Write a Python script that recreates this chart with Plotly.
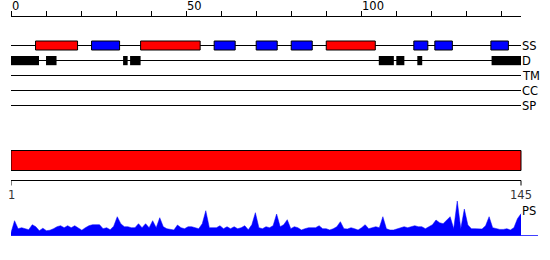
import plotly.graph_objects as go

# ---------------- data ----------------
top_ticks = [0, 50, 100]
top_minor = 10
seq_len = 145

ss_start = [7, 23, 37, 58, 70, 80, 90, 115, 121, 137]
ss_end = [19, 31, 54, 64, 76, 86, 104, 119, 126, 142]
ss_type = ["H", "E", "H", "E", "E", "E", "H", "E", "E", "E"]

d_start = [0, 10, 32, 34, 105, 110, 116, 137.2]
d_end = [8, 13, 33.3, 37, 109.3, 112.3, 117.4, 145.7]

track_names = ["SS", "D", "TM", "CC", "SP"]

domain_start = [1]
domain_end = [145]

ps_values = [3, 15, 7, 8, 7, 6, 11, 9, 5, 7.5,
             5, 5.5, 7, 9, 10, 8, 10, 8, 10, 8,
             5.5, 8, 10, 11, 11, 11, 7, 8, 6, 9.5,
             19, 12, 9, 9, 8, 8, 12, 8, 12, 8,
             15, 8, 18, 9, 7, 6, 5.7, 10.7, 8, 7,
             9, 9, 8, 7, 12, 25, 8, 8, 8, 10,
             7, 9, 7, 9, 7, 8, 10, 6, 11, 23,
             8, 7, 9, 8, 10, 21.7, 9, 11, 16, 7,
             9, 8, 5.7, 7, 8, 8, 8, 10, 7, 7,
             5.7, 7, 9, 14, 7, 6.7, 8, 7, 5.7, 8,
             11, 7, 8, 9, 8, 19, 7, 5.7, 5.7, 7,
             8, 9, 8, 9, 10, 9, 9, 7, 9, 11,
             15.7, 13, 12, 15.7, 19, 7, 34.7, 7, 26.7, 10.7,
             7, 7, 7, 6.7, 10, 19, 8, 7, 6.3, 6.3,
             7, 5.7, 8, 17, 22]
ps_positions = list(range(1, len(ps_values) + 1))

# ---------------- layout constants ----------------
W, H = 550, 260
L_PX, R_PX, R2_PX = 11, 521, 538
TOP_MAX = 145.6
PX_PER_RES = (R_PX - L_PX) / (seq_len - 1)
X2_MAX = 1 + (R2_PX - L_PX) / PX_PER_RES
row_y = {"SS": 45.5, "D": 60.5, "TM": 75.5, "CC": 90.5, "SP": 105.5}
RULER_Y = 15.5
BAR_Y0, BAR_Y1 = 150.5, 170.5
BRULER_Y = 180.5
PS_BASE = 235.7
PS_H = 36
FONT = "DejaVu Sans"
RED, BLUE = "#FF0000", "#0000FF"

fig = go.Figure()

# PS profile
fig.add_trace(go.Scatter(x=[1, X2_MAX], y=[0, 0], xaxis="x2", yaxis="y2", mode="lines",
                         line=dict(color=BLUE, width=1.5), hoverinfo="skip", showlegend=False))
fig.add_trace(go.Scatter(x=ps_positions, y=ps_values, xaxis="x2", yaxis="y2", mode="lines",
                         fill="tozeroy", fillcolor=BLUE, line=dict(color=BLUE, width=0.5),
                         hoverinfo="skip", showlegend=False))
# dummy traces to create subplots
fig.add_trace(go.Scatter(x=[0], y=[0], xaxis="x", yaxis="y", mode="markers",
                         marker=dict(opacity=0), hoverinfo="skip", showlegend=False))
fig.add_trace(go.Scatter(x=[1], y=[0], xaxis="x2", yaxis="y", mode="markers",
                         marker=dict(opacity=0), hoverinfo="skip", showlegend=False))

shapes = []
# track lines
for name in track_names:
    shapes.append(dict(type="line", xref="x domain", yref="y", x0=0, x1=1,
                       y0=row_y[name], y1=row_y[name], line=dict(color="black", width=1)))
# SS boxes
for s, e, t in zip(ss_start, ss_end, ss_type):
    shapes.append(dict(type="rect", xref="x", yref="y", x0=s, x1=e,
                       y0=row_y["SS"] - 4.5, y1=row_y["SS"] + 4.5,
                       fillcolor=RED if t == "H" else BLUE, line=dict(color="black", width=1)))
# D boxes
for s, e in zip(d_start, d_end):
    shapes.append(dict(type="rect", xref="x", yref="y", x0=s, x1=e,
                       y0=row_y["D"] - 4.5, y1=row_y["D"] + 4.7,
                       fillcolor="black", line=dict(width=0)))
# domain bar
for s, e in zip(domain_start, domain_end):
    shapes.append(dict(type="rect", xref="x2", yref="y", x0=s, x1=e, y0=BAR_Y0, y1=BAR_Y1,
                       fillcolor=RED, line=dict(color="black", width=1)))
# bottom ruler
shapes.append(dict(type="line", xref="x2", yref="y", x0=1, x1=seq_len, y0=BRULER_Y, y1=BRULER_Y,
                   line=dict(color="black", width=1)))
for v in [1, seq_len]:
    shapes.append(dict(type="line", xref="x2", yref="y", x0=v, x1=v, y0=BRULER_Y, y1=BRULER_Y + 5,
                       line=dict(color="black", width=1)))

annotations = []
for v in top_ticks:
    annotations.append(dict(x=v, y=6, xref="x", yref="y", text=str(v), showarrow=False,
                            xanchor="left", yanchor="middle", xshift=-1,
                            font=dict(family=FONT, size=11.5, color="black")))
for name in track_names:
    annotations.append(dict(x=(R_PX - 1) / W, y=row_y[name], xref="paper", yref="y", text=name,
                            showarrow=False, xanchor="left", yanchor="middle",
                            font=dict(family=FONT, size=11.5, color="black")))
for v in [1, seq_len]:
    annotations.append(dict(x=v, y=194.5, xref="x2", yref="y", text=str(v), showarrow=False,
                            xanchor="center", yanchor="middle",
                            font=dict(family=FONT, size=11.5, color="#333333")))
annotations.append(dict(x=(R_PX - 1) / W, y=211, xref="paper", yref="y", text="PS",
                        showarrow=False, xanchor="left", yanchor="middle",
                        font=dict(family=FONT, size=11.5, color="black")))

fig.update_layout(
    width=W, height=H, autosize=False,
    margin=dict(l=0, r=0, t=0, b=0, pad=0),
    paper_bgcolor="white", plot_bgcolor="rgba(0,0,0,0)",
    showlegend=False,
    xaxis=dict(domain=[L_PX / W, R_PX / W], range=[0, TOP_MAX], side="top",
               anchor="free", position=1 - RULER_Y / H,
               showline=True, linecolor="black", linewidth=1,
               ticks="outside", ticklen=5, tickcolor="black", tickwidth=1,
               tick0=0, dtick=top_minor, showticklabels=False,
               showgrid=False, zeroline=False, fixedrange=True),
    yaxis=dict(domain=[0, 1], range=[H, 0], visible=False, fixedrange=True),
    xaxis2=dict(domain=[L_PX / W, R2_PX / W], range=[1, X2_MAX], visible=False,
                anchor="y2", fixedrange=True),
    yaxis2=dict(domain=[1 - PS_BASE / H, 1 - (PS_BASE - PS_H) / H], range=[0, PS_H],
                visible=False, anchor="x2", fixedrange=True),
    shapes=shapes,
    annotations=annotations,
)

fig.write_html("out.html")
